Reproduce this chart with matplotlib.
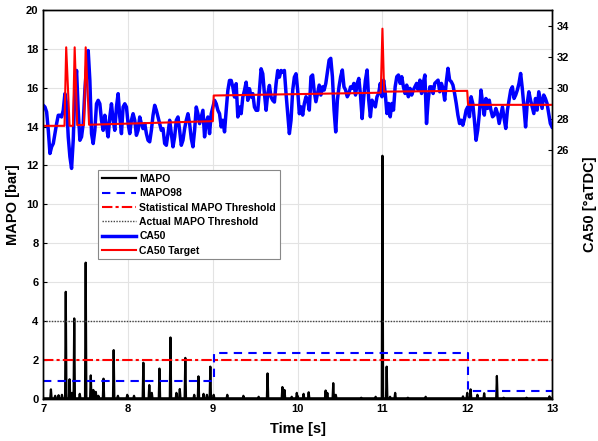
import numpy as np
import matplotlib
matplotlib.use("Agg")
import matplotlib.pyplot as plt

plt.rcParams['font.family'] = ['Liberation Sans', 'DejaVu Sans']
plt.rcParams['font.weight'] = 'bold'

# CA50 [deg aTDC] in two stretches
ca50_a = [28.87, 28.76, 28.44, 27.26, 25.77, 26.20, 26.41, 27.05, 27.69, 28.23,
          28.23, 28.12, 28.55, 29.62, 28.97, 26.84, 25.56, 24.81, 26.62, 29.83,
          31.11, 28.55, 26.62, 26.84, 27.69, 29.83, 31.32, 32.39, 30.47, 27.05,
          26.41, 27.26, 28.97, 29.19, 28.97, 27.91, 27.26, 28.23, 27.48, 26.84,
          28.12, 28.97, 27.91, 27.26, 28.76, 29.62, 28.12, 27.05, 28.76, 28.97,
          28.76, 27.69, 27.05, 27.91, 28.33, 27.91, 26.94, 27.26, 28.12, 27.69,
          27.37, 27.69, 27.05, 26.62, 26.52, 27.26, 28.23, 28.87, 28.55, 28.12,
          27.69, 27.26, 27.37, 26.41, 26.30, 27.05, 27.91, 27.05, 26.20, 26.84,
          27.91, 28.12, 27.26, 26.30, 26.62, 27.37, 27.91, 28.33, 27.69, 26.73,
          26.20, 27.26, 28.76, 28.33, 27.69, 28.12, 28.55, 26.84, 27.80, 28.12,
          27.05, 28.33, 28.76, 29.19, 28.97, 28.55, 28.33, 27.48, 27.91, 27.16,
          28.55, 29.83, 30.47, 30.47, 30.04, 29.40, 30.26, 28.12, 28.76, 28.33,
          29.40, 29.83, 30.36, 29.19, 29.94, 29.40, 29.62, 28.76, 28.55, 28.55,
          29.83, 31.22, 30.90, 29.62, 28.55, 29.62, 30.15, 29.40, 29.19, 29.08,
          30.26, 31.11, 30.68, 31.11, 31.00, 31.11, 29.62, 28.33, 27.05, 27.91,
          29.83, 30.68, 30.90, 29.83, 28.33]
ca50_b = [28.77, 28.24, 28.99, 29.42, 29.20, 28.56, 30.71, 30.82, 29.74, 29.10,
          29.63, 30.17, 29.53, 30.06, 29.85, 30.28, 31.03, 31.78, 31.89, 30.71,
          28.56, 27.16, 29.20, 30.06, 30.71, 31.14, 30.06, 29.85, 29.42, 29.63,
          30.06, 29.96, 30.28, 29.53, 30.28, 30.60, 29.53, 28.02, 29.42, 30.49,
          31.14, 29.20, 28.13, 29.20, 28.99, 28.77, 29.42, 29.63, 30.28, 29.42,
          30.49, 29.63, 28.34, 28.99, 28.13, 28.99, 28.56, 30.06, 30.71, 30.82,
          30.28, 30.71, 30.06, 29.63, 30.17, 29.42, 29.96, 29.53, 29.85, 30.06,
          30.28, 29.85, 30.49, 29.63, 30.28, 30.82, 27.70, 29.20, 30.06, 30.06,
          29.63, 30.28, 30.39, 30.49, 29.74, 30.28, 29.96, 29.20, 30.39, 31.25,
          30.49, 30.39, 30.17, 29.63, 28.99, 28.24, 27.70, 27.91, 27.59, 28.02,
          28.56, 28.77, 28.13, 29.42, 28.99, 27.91, 26.62, 27.27, 28.34, 29.85,
          28.99, 28.24, 29.31, 28.67, 29.20, 28.56, 28.13, 28.24, 28.67, 28.34,
          27.70, 28.24, 28.77, 28.02, 27.38, 28.56, 29.20, 29.85, 30.06, 29.31,
          29.53, 29.85, 30.28, 30.92, 29.96, 28.77, 27.48, 28.99, 29.74, 29.20,
          28.77, 28.34, 29.31, 28.56, 29.74, 29.20, 28.67, 29.53, 29.31, 28.99,
          28.34, 27.70, 27.48]

# CA50 target (step profile with three spikes early and one at 11 s)
target_t = [7.0, 7.25, 7.27, 7.31, 7.35, 7.37, 7.40, 7.48, 7.50, 7.54,
            9.0, 9.01, 10.98, 11.0, 11.02, 12.0, 12.01, 13.0]
target_v = [27.55, 27.55, 32.6, 27.55, 27.55, 32.6, 27.6, 27.6, 32.6, 27.62,
            27.85, 29.5, 29.68, 33.8, 29.75, 29.8, 28.9, 28.9]

# MAPO peaks [bar]
spike_t = [7.09, 7.14, 7.18, 7.22, 7.265, 7.31, 7.34, 7.365, 7.43, 7.50,
           7.56, 7.59, 7.62, 7.65, 7.71, 7.83, 7.88, 7.99, 8.07, 8.18,
           8.25, 8.28, 8.37, 8.50, 8.57, 8.61, 8.675, 8.78, 8.83, 8.89,
           8.93, 8.97, 9.01, 9.17, 9.36, 9.54, 9.645, 9.82, 9.845, 9.93,
           9.99, 10.07, 10.13, 10.33, 10.35, 10.42, 10.45, 10.75, 10.92, 11.0,
           11.05, 11.09, 11.15, 11.3, 11.51, 11.95, 12.0, 12.04, 12.12, 12.2,
           12.35, 12.43, 12.7, 12.97]
spike_h = [0.48, 0.15, 0.18, 0.2, 5.5, 1.0, 0.3, 4.13, 0.25, 7.0,
           1.2, 0.45, 0.35, 0.15, 1.03, 2.5, 0.15, 0.2, 0.15, 1.85,
           0.7, 0.3, 1.55, 3.15, 0.3, 0.5, 2.1, 0.2, 1.15, 0.25,
           0.2, 1.65, 0.2, 0.2, 0.15, 0.1, 1.3, 0.6, 0.45, 0.1,
           0.3, 0.25, 0.33, 0.42, 0.3, 0.8, 0.2, 0.05, 0.1, 12.5,
           1.65, 0.1, 0.3, 0.05, 0.1, 0.12, 0.3, 0.48, 0.2, 0.28,
           1.17, 0.05, 0.05, 0.12]

mapo98_t = [7.0, 9.01, 9.01, 12.01, 12.01, 13.0]
mapo98_v = [0.9, 0.9, 2.33, 2.33, 0.42, 0.42]

stat_thr = 2.0
actual_thr = 4.0

# build the MAPO trace from the peaks
mapo_t = [7.0]
mapo_v = [0.02]
for t, h in zip(spike_t, spike_h):
    mapo_t += [t - 0.008, t, t + 0.008]
    mapo_v += [0.02, h, 0.02]
mapo_t.append(13.0)
mapo_v.append(0.02)

ta = np.linspace(7.0, 10.02, len(ca50_a))
tb = np.linspace(10.04, 13.0, len(ca50_b))
ca50_t = np.concatenate([ta, tb])
ca50_v = np.array(ca50_a + ca50_b)

fig, ax = plt.subplots(figsize=(5.98, 4.41), dpi=100)
fig.subplots_adjust(left=43.3 / 598, right=552 / 598, top=1 - 10 / 441, bottom=1 - 398.7 / 441)

l1, = ax.plot(mapo_t, mapo_v, color='black', lw=1.6, label='MAPO')
l2, = ax.plot(mapo98_t, mapo98_v, color='blue', lw=1.5, ls=(0, (4, 3)), label='MAPO98')
l3 = ax.axhline(stat_thr, color='red', lw=1.5, ls=(0, (5, 1.5, 1.5, 1.5)), label='Statistical MAPO Threshold')
l4 = ax.axhline(actual_thr, color='#444444', lw=1.0, ls=(0, (1, 1)), label='Actual MAPO Threshold')

ax.set_xlim(7, 13)
ax.set_ylim(0, 20)
ax.set_xticks(range(7, 14))
ax.set_yticks(range(0, 21, 2))
ax.grid(True, color='#e3e3e3', lw=0.8)
ax.set_axisbelow(True)
ax.tick_params(direction='in', labelsize=8, length=3, width=0.8)
ax.set_xlabel('Time [s]', fontsize=10.5, fontweight='bold', labelpad=6)
ax.set_ylabel('MAPO [bar]', fontsize=10.5, fontweight='bold', labelpad=4)

ax2 = ax.twinx()
l5, = ax2.plot(ca50_t, ca50_v, color='blue', lw=2.5, label='CA50')
l6, = ax2.plot(target_t, target_v, color='red', lw=1.5, label='CA50 Target')
ax2.set_ylim(10, 35)
ax2.set_yticks(range(26, 35, 2))
ax2.tick_params(direction='in', labelsize=8, length=3, width=0.8)
ax2.set_ylabel('CA50 [°aTDC]', fontsize=10.5, fontweight='bold', labelpad=10)

for a in (ax, ax2):
    for s in a.spines.values():
        s.set_linewidth(1.0)

leg = ax2.legend(handles=[l1, l2, l3, l4, l5, l6], loc='upper left',
                 bbox_to_anchor=(0.108, 0.588), borderaxespad=0, fontsize=7.5,
                 handlelength=3.3, handletextpad=0.3, labelspacing=0.42,
                 borderpad=0.35, fancybox=False, framealpha=1)
leg.get_frame().set_edgecolor('#888888')
leg.get_frame().set_linewidth(0.8)
for txt in leg.get_texts():
    txt.set_fontweight('bold')

fig.savefig('out.png', dpi=100)
